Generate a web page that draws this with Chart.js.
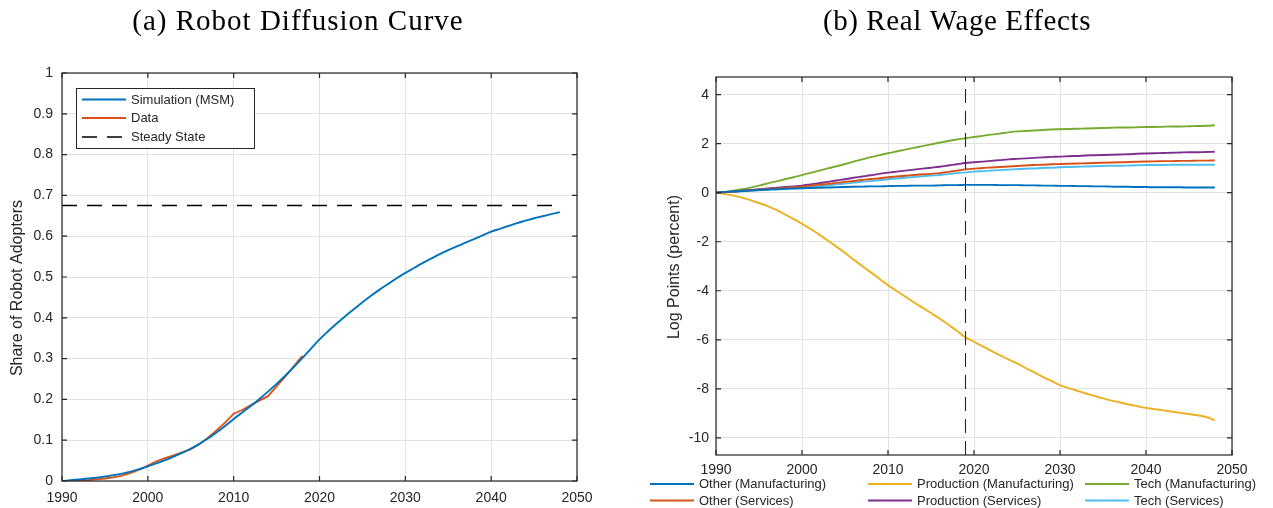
<!DOCTYPE html>
<html>
<head>
<meta charset="utf-8">
<script src="https://cdn.jsdelivr.net/npm/chart.js@4.4.1/dist/chart.umd.min.js"></script>
<style>
  html, body { margin: 0; padding: 0; background: #ffffff; }
  #wrap { position: relative; width: 1273px; height: 508px; overflow: hidden; background: #ffffff; }
  canvas { position: absolute; top: 0; }
  #diffusion { left: 0; }
  #wages { left: 640px; }
</style>
</head>
<body>
<div id="wrap">
  <canvas id="diffusion" width="640" height="508"></canvas>
  <canvas id="wages" width="633" height="508"></canvas>
</div>
<script>
// ---------- Panel (a): robot diffusion ----------
const years = [1990,1991,1992,1993,1994,1995,1996,1997,1998,1999,
               2000,2001,2002,2003,2004,2005,2006,2007,2008,2009,
               2010,2011,2012,2013,2014,2015,2016,2017,2018,2019,
               2020,2021,2022,2023,2024,2025,2026,2027,2028,2029,
               2030,2031,2032,2033,2034,2035,2036,2037,2038,2039,
               2040,2041,2042,2043,2044,2045,2046,2047,2048];

const simulatedShare = [0.000,0.002,0.004,0.006,0.008,0.011,0.014,0.018,0.023,0.029,
                        0.036,0.043,0.051,0.060,0.069,0.079,0.091,0.104,0.119,0.135,
                        0.152,0.168,0.184,0.201,0.219,0.238,0.258,0.279,0.301,0.324,
                        0.347,0.367,0.386,0.404,0.421,0.438,0.454,0.469,0.483,0.497,
                        0.510,0.522,0.534,0.545,0.556,0.566,0.575,0.584,0.593,0.602,
                        0.611,0.618,0.625,0.632,0.638,0.644,0.649,0.654,0.659];

const dataYears = [1990,1991,1992,1993,1994,1995,1996,1997,1998,1999,
                   2000,2001,2002,2003,2004,2005,2006,2007,2008,2009,
                   2010,2011,2012,2013,2014,2015,2016,2017,2018];
const observedShare = [0.000,0.000,0.001,0.002,0.004,0.006,0.009,0.013,0.020,0.028,
                       0.038,0.048,0.056,0.063,0.070,0.078,0.090,0.106,0.124,0.143,
                       0.165,0.174,0.186,0.197,0.208,0.232,0.256,0.281,0.307];

const steadyYears = [1990, 2048];
const steadyShare = [0.675, 0.675];

const shareTicks = [0,0.1,0.2,0.3,0.4,0.5,0.6,0.7,0.8,0.9,1];
const shareTickLabels = ['0','0.1','0.2','0.3','0.4','0.5','0.6','0.7','0.8','0.9','1'];
const yearTicks = [1990,2000,2010,2020,2030,2040,2050];
const yearTickLabels = ['1990','2000','2010','2020','2030','2040','2050'];

// ---------- Panel (b): real wage effects (log points, percent) ----------
const otherManufacturing = [0.00,0.03,0.05,0.07,0.09,0.11,0.13,0.14,0.16,0.17,
                            0.18,0.19,0.20,0.21,0.22,0.23,0.24,0.25,0.26,0.26,
                            0.27,0.28,0.28,0.29,0.29,0.29,0.30,0.31,0.31,0.32,
                            0.32,0.32,0.32,0.31,0.31,0.31,0.30,0.30,0.29,0.29,
                            0.28,0.28,0.27,0.27,0.26,0.26,0.25,0.24,0.24,0.23,
                            0.23,0.22,0.22,0.22,0.22,0.21,0.21,0.21,0.21];
const otherServices = [0.00,0.02,0.05,0.07,0.10,0.12,0.15,0.17,0.20,0.22,
                       0.25,0.29,0.33,0.36,0.40,0.44,0.48,0.52,0.56,0.59,
                       0.63,0.66,0.69,0.72,0.75,0.77,0.80,0.85,0.90,0.95,
                       0.98,1.01,1.03,1.05,1.07,1.09,1.11,1.13,1.14,1.16,
                       1.17,1.18,1.19,1.20,1.21,1.22,1.23,1.24,1.25,1.26,
                       1.27,1.28,1.29,1.29,1.30,1.30,1.31,1.31,1.32];
const productionManufacturing = [0.00,-0.05,-0.12,-0.20,-0.30,-0.42,-0.55,-0.70,-0.88,-1.07,
                                 -1.27,-1.48,-1.71,-1.95,-2.20,-2.46,-2.73,-2.99,-3.25,-3.51,
                                 -3.77,-4.01,-4.24,-4.47,-4.69,-4.91,-5.13,-5.38,-5.63,-5.90,
                                 -6.08,-6.27,-6.45,-6.63,-6.80,-6.96,-7.15,-7.33,-7.51,-7.68,
                                 -7.85,-7.97,-8.08,-8.19,-8.29,-8.39,-8.48,-8.56,-8.64,-8.71,
                                 -8.78,-8.83,-8.88,-8.93,-8.98,-9.03,-9.08,-9.15,-9.28];
const productionServices = [0.00,0.02,0.05,0.08,0.11,0.14,0.17,0.20,0.23,0.26,
                            0.29,0.34,0.39,0.44,0.50,0.55,0.61,0.66,0.71,0.77,
                            0.82,0.86,0.90,0.94,0.98,1.02,1.06,1.11,1.16,1.21,
                            1.24,1.27,1.30,1.33,1.36,1.38,1.40,1.42,1.44,1.46,
                            1.47,1.49,1.50,1.52,1.53,1.54,1.55,1.56,1.57,1.59,
                            1.60,1.61,1.62,1.63,1.64,1.65,1.65,1.66,1.67];
const techManufacturing = [0.00,0.03,0.08,0.14,0.21,0.29,0.38,0.46,0.55,0.63,
                           0.72,0.81,0.90,0.99,1.08,1.17,1.27,1.36,1.45,1.53,
                           1.61,1.68,1.76,1.83,1.90,1.97,2.04,2.11,2.17,2.22,
                           2.27,2.32,2.37,2.41,2.46,2.50,2.52,2.54,2.56,2.58,
                           2.59,2.60,2.61,2.62,2.63,2.64,2.65,2.66,2.66,2.67,
                           2.68,2.68,2.69,2.70,2.70,2.71,2.72,2.73,2.75];
const techServices = [0.00,0.02,0.04,0.06,0.08,0.10,0.12,0.14,0.16,0.18,
                      0.20,0.23,0.27,0.30,0.34,0.37,0.41,0.44,0.48,0.51,
                      0.55,0.58,0.61,0.64,0.67,0.70,0.72,0.76,0.80,0.83,
                      0.86,0.88,0.90,0.92,0.94,0.96,0.98,0.99,1.01,1.02,
                      1.04,1.05,1.06,1.07,1.08,1.09,1.10,1.10,1.11,1.12,
                      1.13,1.13,1.13,1.14,1.14,1.14,1.14,1.14,1.14];

const wageTicks = [-10,-8,-6,-4,-2,0,2,4];
const wageTickLabels = ['-10','-8','-6','-4','-2','0','2','4'];
const calibrationYear = 2019;

// ---------- shared styling ----------
const INK = '#262626';
const GRID = '#e2e2e2';
const SANS = '"Liberation Sans", Arial, Helvetica, sans-serif';
const SERIF = '"Liberation Serif", "Times New Roman", serif';

Chart.defaults.font.family = SANS;
Chart.defaults.font.size = 14;
Chart.defaults.color = INK;

const pts = (xs, ys) => xs.map((x, i) => ({ x: x, y: ys[i] }));

// Box around the axes with inward tick marks on every side, plus titles, labels and legends.
const axesDecor = {
  id: 'axesDecor',
  afterDatasetsDraw(chart, args, o) {
    const { ctx, chartArea: a, scales } = chart;
    ctx.save();
    if (o.vline !== undefined) {
      const x = Math.round(scales.x.getPixelForValue(o.vline)) + 0.5;
      ctx.strokeStyle = INK;
      ctx.lineWidth = 1.1;
      ctx.setLineDash([14, 8]);
      ctx.beginPath();
      ctx.moveTo(x, a.bottom);
      ctx.lineTo(x, a.top);
      ctx.stroke();
      ctx.setLineDash([]);
    }
    ctx.strokeStyle = INK;
    ctx.lineWidth = 1.2;
    ctx.strokeRect(a.left, a.top, a.right - a.left, a.bottom - a.top);
    const tl = 5;
    ctx.beginPath();
    scales.x.ticks.forEach(t => {
      const px = scales.x.getPixelForValue(t.value);
      ctx.moveTo(px, a.bottom); ctx.lineTo(px, a.bottom - tl);
      ctx.moveTo(px, a.top); ctx.lineTo(px, a.top + tl);
    });
    scales.y.ticks.forEach(t => {
      const py = scales.y.getPixelForValue(t.value);
      ctx.moveTo(a.left, py); ctx.lineTo(a.left + tl, py);
      ctx.moveTo(a.right, py); ctx.lineTo(a.right - tl, py);
    });
    ctx.stroke();
    ctx.restore();
  },
  afterDraw(chart, args, o) {
    const { ctx } = chart;
    ctx.save();
    // panel title
    ctx.font = '29px ' + SERIF;
    if ('letterSpacing' in ctx) ctx.letterSpacing = o.titleSpacing + 'px';
    ctx.textAlign = 'center';
    ctx.textBaseline = 'middle';
    ctx.fillStyle = '#000000';
    ctx.fillText(o.title, o.titleX, o.titleY);
    if ('letterSpacing' in ctx) ctx.letterSpacing = '0px';
    // y-axis label
    ctx.fillStyle = INK;
    ctx.font = '16px ' + SANS;
    ctx.save();
    ctx.translate(o.yLabelX, o.yLabelY);
    ctx.rotate(-Math.PI / 2);
    ctx.fillText(o.yLabel, 0, 0);
    ctx.restore();
    // legend
    const L = o.legend;
    ctx.font = '13px ' + SANS;
    ctx.textAlign = 'left';
    ctx.textBaseline = 'middle';
    if (L.box) {
      ctx.fillStyle = '#ffffff';
      ctx.fillRect(L.box[0], L.box[1], L.box[2], L.box[3]);
      ctx.strokeStyle = INK;
      ctx.lineWidth = 1;
      ctx.strokeRect(L.box[0] + 0.5, L.box[1] + 0.5, L.box[2], L.box[3]);
    }
    chart.data.datasets.forEach((ds, i) => {
      const col = Math.floor(i / L.rows.length);
      const row = i % L.rows.length;
      const x0 = L.cols[col];
      const y = L.rows[row];
      ctx.strokeStyle = ds.borderColor;
      ctx.lineWidth = ds.borderWidth;
      ctx.setLineDash(ds.borderDash || []);
      ctx.beginPath();
      ctx.moveTo(x0, y);
      ctx.lineTo(x0 + L.sample, y);
      ctx.stroke();
      ctx.setLineDash([]);
      ctx.fillStyle = INK;
      ctx.fillText(ds.label, x0 + L.sample + L.gap, y + 0.5);
    });
    ctx.restore();
  }
};

function yearAxis(height, pad) {
  return {
    type: 'linear', min: 1990, max: 2050,
    afterBuildTicks: s => { s.ticks = yearTicks.map(v => ({ value: v })); },
    afterFit: s => { s.height = height; },
    ticks: { padding: pad, maxRotation: 0, autoSkip: false,
             callback: (v, i) => yearTickLabels[i] },
    grid: { color: GRID, lineWidth: 1, drawTicks: false },
    border: { display: false }
  };
}

const LW = 1.9;

// Panel (a)
new Chart(document.getElementById('diffusion'), {
  type: 'line',
  data: {
    datasets: [
      { label: 'Simulation (MSM)', data: pts(years, simulatedShare),
        borderColor: '#0072BD', borderWidth: LW, cubicInterpolationMode: 'monotone' },
      { label: 'Data', data: pts(dataYears, observedShare),
        borderColor: '#D95319', borderWidth: LW },
      { label: 'Steady State', data: pts(steadyYears, steadyShare),
        borderColor: '#000000', borderWidth: 1.5, borderDash: [15, 10] }
    ]
  },
  options: {
    responsive: false, animation: false, devicePixelRatio: 1,
    layout: { padding: { top: 73, right: 63, left: 0, bottom: 0 } },
    elements: { point: { radius: 0 }, line: { tension: 0 } },
    plugins: {
      legend: { display: false }, tooltip: { enabled: false },
      axesDecor: {
        title: '(a) Robot Diffusion Curve', titleX: 298, titleY: 22, titleSpacing: 1.0,
        yLabel: 'Share of Robot Adopters', yLabelX: 18, yLabelY: 288,
        legend: { box: [76, 88, 178, 60], cols: [82], rows: [99.5, 118, 137], sample: 44, gap: 5 }
      }
    },
    scales: {
      x: yearAxis(27, 9),
      y: {
        type: 'linear', min: 0, max: 1,
        afterBuildTicks: s => { s.ticks = shareTicks.map(v => ({ value: v })); },
        afterFit: s => { s.width = 62; },
        ticks: { padding: 9, callback: (v, i) => shareTickLabels[i] },
        grid: { color: GRID, lineWidth: 1, drawTicks: false },
        border: { display: false }
      }
    }
  },
  plugins: [axesDecor]
});

// Panel (b)
new Chart(document.getElementById('wages'), {
  type: 'line',
  data: {
    datasets: [
      { label: 'Other (Manufacturing)', data: pts(years, otherManufacturing), borderColor: '#0072BD', borderWidth: LW },
      { label: 'Other (Services)', data: pts(years, otherServices), borderColor: '#D95319', borderWidth: LW },
      { label: 'Production (Manufacturing)', data: pts(years, productionManufacturing), borderColor: '#EDB120', borderWidth: LW },
      { label: 'Production (Services)', data: pts(years, productionServices), borderColor: '#7E2F8E', borderWidth: LW },
      { label: 'Tech (Manufacturing)', data: pts(years, techManufacturing), borderColor: '#77AC30', borderWidth: LW },
      { label: 'Tech (Services)', data: pts(years, techServices), borderColor: '#4DBEEE', borderWidth: LW }
    ]
  },
  options: {
    responsive: false, animation: false, devicePixelRatio: 1,
    layout: { padding: { top: 77, right: 41, left: 0, bottom: 0 } },
    elements: { point: { radius: 0 }, line: { tension: 0, cubicInterpolationMode: 'monotone' } },
    plugins: {
      legend: { display: false }, tooltip: { enabled: false },
      axesDecor: {
        title: '(b) Real Wage Effects', titleX: 317, titleY: 22, titleSpacing: 0.6,
        yLabel: 'Log Points (percent)', yLabelX: 35, yLabelY: 267,
        vline: calibrationYear,
        legend: { cols: [10, 228, 445], rows: [484, 500.5], sample: 44, gap: 5 }
      }
    },
    scales: {
      x: yearAxis(53, 7),
      y: {
        type: 'linear', min: -10.7, max: 4.72,
        afterBuildTicks: s => { s.ticks = wageTicks.map(v => ({ value: v })); },
        afterFit: s => { s.width = 76; },
        ticks: { padding: 7, callback: (v, i) => wageTickLabels[i] },
        grid: { color: GRID, lineWidth: 1, drawTicks: false },
        border: { display: false }
      }
    }
  },
  plugins: [axesDecor]
});
</script>
</body>
</html>
